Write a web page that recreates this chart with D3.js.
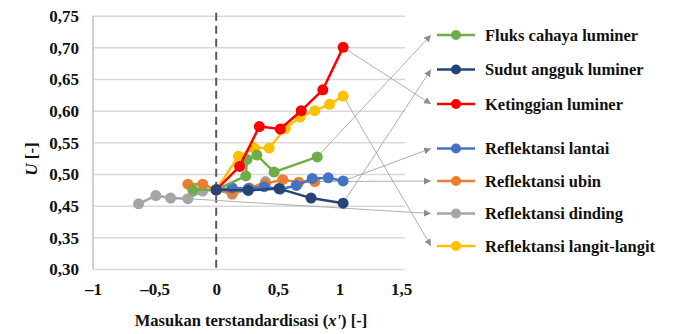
<!DOCTYPE html>
<html lang="id">
<head>
<meta charset="UTF-8">
<title>U vs masukan terstandardisasi</title>
<script src="https://d3js.org/d3.v7.min.js"></script>
<style>
  body { margin: 0; background: #fff; }
  text { font-family: "Liberation Serif", "Times New Roman", serif; font-weight: bold; fill: #111; }
  .grid line { stroke: #d9d9d9; stroke-width: 1.5px; }
  .series path { fill: none; stroke-width: 2.5px; stroke-linejoin: round; }
  .pointer { stroke: #a6a6a6; stroke-width: 0.9px; fill: none; }
</style>
</head>
<body>
<script>

// ---- data ----
var xTicks = [-1, -0.5, 0, 0.5, 1, 1.5];
var xTickLabels = ["\u20131", "\u20130,5", "0", "0,5", "1", "1,5"];
var yTicks = [0.35, 0.40, 0.45, 0.50, 0.55, 0.60, 0.65, 0.70, 0.75];
var yTickLabels = ["0,30", "0,35", "0,45", "0,50", "0,55", "0,60", "0,65", "0,70", "0,75"];

var seriesNames = ["Fluks cahaya luminer", "Sudut angguk luminer", "Ketinggian luminer",
                   "Reflektansi lantai", "Reflektansi ubin", "Reflektansi dinding",
                   "Reflektansi langit-langit"];

var fluksX = [-0.19, 0, 0.24, 0.25, 0.33, 0.47, 0.82];
var fluksY = [0.475, 0.475, 0.497, 0.523, 0.530, 0.503, 0.527];

var sudutX = [0, 0.26, 0.51, 0.77, 1.03];
var sudutY = [0.475, 0.474, 0.477, 0.462, 0.454];

var tinggiX = [0, 0.19, 0.35, 0.52, 0.69, 0.865, 1.03];
var tinggiY = [0.475, 0.512, 0.575, 0.571, 0.600, 0.633, 0.700];

var lantaiX = [0, 0.13, 0.26, 0.39, 0.52, 0.65, 0.78, 0.91, 1.03];
var lantaiY = [0.475, 0.478, 0.477, 0.480, 0.476, 0.482, 0.493, 0.494, 0.489];

var ubinX = [-0.23, -0.11, 0, 0.13, 0.27, 0.40, 0.54, 0.67, 0.80];
var ubinY = [0.484, 0.484, 0.475, 0.470, 0.478, 0.485, 0.491, 0.487, 0.488];

var dindingX = [-0.63, -0.49, -0.37, -0.23, -0.11, 0, 0.13, 0.26, 0.40];
var dindingY = [0.453, 0.466, 0.462, 0.461, 0.473, 0.475, 0.468, 0.476, 0.488];

var langitX = [0, 0.18, 0.31, 0.43, 0.56, 0.68, 0.80, 0.92, 1.03];
var langitY = [0.475, 0.528, 0.541, 0.541, 0.572, 0.590, 0.600, 0.610, 0.623];

// which point of each series the pointer arrow leaves from
var pointerFrom = [6, 4, 6, 8, 8, 3, 8];

// ---- styles ----
var colors = ["#70ad47", "#264478", "#ff0000", "#4472c4", "#ed7d31", "#a5a5a5", "#ffc000"];
var allX = [fluksX, sudutX, tinggiX, lantaiX, ubinX, dindingX, langitX];
var allY = [fluksY, sudutY, tinggiY, lantaiY, ubinY, dindingY, langitY];

var series = seriesNames.map(function(name, i) {
  return { name: name, color: colors[i],
           points: allX[i].map(function(x, j) { return { x: x, y: allY[i][j] }; }),
           from: pointerFrom[i] };
});
var drawOrder = [6, 5, 4, 3, 0, 2, 1];

var width = 675, height = 334;
var serif = "'Liberation Serif', 'Times New Roman', serif";

var x = d3.scaleLinear().domain([-1, 1.5]).range([93, 401]);
var y = d3.scaleLinear().domain([0.35, 0.75]).range([269, 15.7]);

var svg = d3.select("body").append("svg")
    .attr("width", width)
    .attr("height", height);

svg.append("defs").append("marker")
    .attr("id", "arrow")
    .attr("viewBox", "0 0 10 10")
    .attr("refX", 10).attr("refY", 5)
    .attr("markerWidth", 7).attr("markerHeight", 7)
    .attr("markerUnits", "userSpaceOnUse")
    .attr("orient", "auto")
  .append("path")
    .attr("d", "M0,0L10,5L0,10Z")
    .attr("fill", "#8c8c8c");

// horizontal gridlines
svg.append("g")
    .attr("class", "grid")
    .attr("transform", "translate(" + x.range()[0] + ",0)")
    .call(d3.axisLeft(y).tickValues(yTicks).tickSize(-(x.range()[1] - x.range()[0] + 4)).tickFormat(""))
    .call(function(g) { g.select(".domain").remove(); });

// y axis line
svg.append("line")
    .attr("x1", x.range()[0]).attr("x2", x.range()[0])
    .attr("y1", y(0.75)).attr("y2", y(0.35))
    .attr("stroke", "#d0d0d0").attr("stroke-width", 2);

// y tick labels
svg.append("g")
    .attr("transform", "translate(" + (x.range()[0] - 11) + ",0)")
    .call(d3.axisLeft(y).tickValues(yTicks).tickSize(0)
      .tickFormat(function(d, i) { return yTickLabels[i]; }))
    .call(function(g) {
      g.select(".domain").remove();
      g.attr("font-family", serif);
      g.selectAll("text").attr("font-size", 17).attr("dy", "0.34em")
        .style("font-family", serif).style("font-weight", "bold").attr("fill", "#111");
    });

// x tick labels
svg.append("g")
    .attr("transform", "translate(0," + (y(0.35) + 11) + ")")
    .call(d3.axisBottom(x).tickValues(xTicks).tickSize(0)
      .tickFormat(function(d, i) { return xTickLabels[i]; }))
    .call(function(g) {
      g.select(".domain").remove();
      g.attr("font-family", serif);
      g.selectAll("text").attr("font-size", 17)
        .style("font-family", serif).style("font-weight", "bold").attr("fill", "#111");
    });

// dashed reference at x' = 0
svg.append("line")
    .attr("x1", x(0)).attr("x2", x(0))
    .attr("y1", y(0.75) - 3).attr("y2", y(0.35))
    .attr("stroke", "#595959").attr("stroke-width", 2)
    .attr("stroke-dasharray", "8,5");

// legend rows
var legendY = function(i) { return 35 + i * 34.5 + (i > 2 ? 10 : 0) - (i > 3 ? 2 * (i - 3) : 0); };
var legendX = 437;

// pointer arrows
svg.append("g").selectAll("line")
  .data(series)
  .enter().append("line")
    .attr("class", "pointer")
    .attr("x1", function(d) { return x(d.points[d.from].x); })
    .attr("y1", function(d) { return y(d.points[d.from].y); })
    .attr("x2", legendX - 6)
    .attr("y2", function(d, i) { return legendY(i); })
    .attr("marker-end", "url(#arrow)");

// series lines and markers
var line = d3.line()
    .x(function(d) { return x(d.x); })
    .y(function(d) { return y(d.y); });

var sg = svg.append("g").selectAll("g")
  .data(drawOrder.map(function(i) { return series[i]; }))
  .enter().append("g")
    .attr("class", "series");

sg.append("path")
    .attr("d", function(d) { return line(d.points); })
    .attr("stroke", function(d) { return d.color; });

sg.selectAll("circle")
  .data(function(d) { return d.points.map(function(p) { return { p: p, c: d.color }; }); })
  .enter().append("circle")
    .attr("cx", function(d) { return x(d.p.x); })
    .attr("cy", function(d) { return y(d.p.y); })
    .attr("r", 5.5)
    .attr("fill", function(d) { return d.c; });

// legend
var lg = svg.append("g").selectAll("g")
  .data(series)
  .enter().append("g")
    .attr("transform", function(d, i) { return "translate(" + legendX + "," + legendY(i) + ")"; });

lg.append("line")
    .attr("x1", 0).attr("x2", 38)
    .attr("stroke", function(d) { return d.color; })
    .attr("stroke-width", 2.5);

lg.append("circle")
    .attr("cx", 19).attr("r", 5)
    .attr("fill", function(d) { return d.color; });

lg.append("text")
    .attr("x", 48)
    .attr("dy", "0.34em")
    .attr("font-size", 16.5)
    .text(function(d) { return d.name; });

// axis titles
var xt = svg.append("text")
    .attr("x", 251)
    .attr("y", 326)
    .attr("text-anchor", "middle")
    .attr("font-size", 16.5);
xt.append("tspan").text("Masukan terstandardisasi (");
xt.append("tspan").style("font-style", "italic").text("x'");
xt.append("tspan").text(") [-]");

var yt = svg.append("text")
    .attr("transform", "translate(37,159) rotate(-90)")
    .attr("text-anchor", "middle")
    .attr("font-size", 17);
yt.append("tspan").style("font-style", "italic").text("U");
yt.append("tspan").text(" [-]");

</script>
</body>
</html>
